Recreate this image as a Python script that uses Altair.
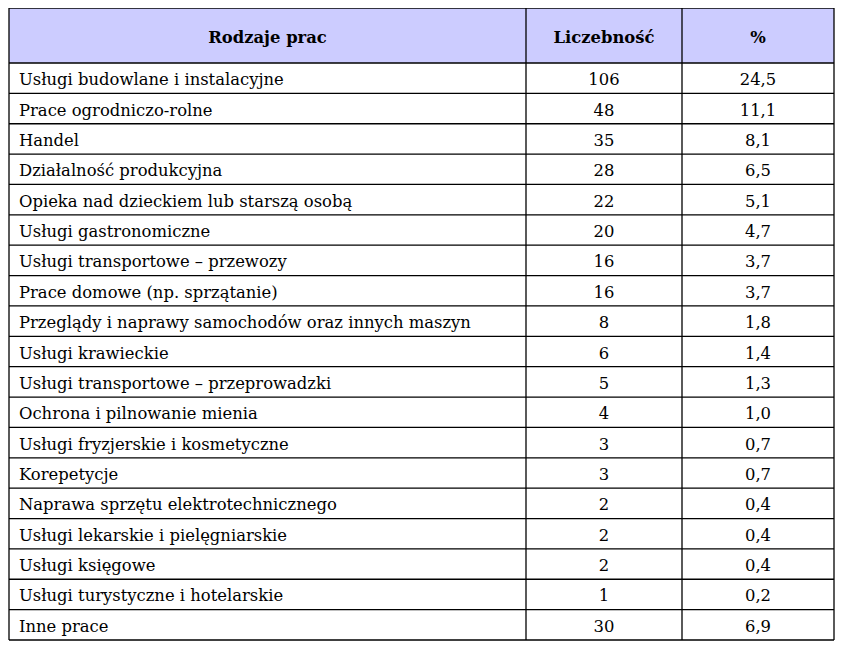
import altair as alt
import pandas as pd

# ---- data ----
header = ["Rodzaje prac", "Liczebność", "%"]
categories = [
    "Usługi budowlane i instalacyjne",
    "Prace ogrodniczo-rolne",
    "Handel",
    "Działalność produkcyjna",
    "Opieka nad dzieckiem lub starszą osobą",
    "Usługi gastronomiczne",
    "Usługi transportowe – przewozy",
    "Prace domowe (np. sprzątanie)",
    "Przeglądy i naprawy samochodów oraz innych maszyn",
    "Usługi krawieckie",
    "Usługi transportowe – przeprowadzki",
    "Ochrona i pilnowanie mienia",
    "Usługi fryzjerskie i kosmetyczne",
    "Korepetycje",
    "Naprawa sprzętu elektrotechnicznego",
    "Usługi lekarskie i pielęgniarskie",
    "Usługi księgowe",
    "Usługi turystyczne i hotelarskie",
    "Inne prace",
]
counts = [106, 48, 35, 28, 22, 20, 16, 16, 8, 6, 5, 4, 3, 3, 2, 2, 2, 1, 30]
percents = [24.5, 11.1, 8.1, 6.5, 5.1, 4.7, 3.7, 3.7, 1.8, 1.4, 1.3, 1.0,
            0.7, 0.7, 0.4, 0.4, 0.4, 0.2, 6.9]

# ---- layout (table geometry in pixel units) ----
W, H = 828, 639
col_edges = [1, 518, 674, 826]
top, header_bottom, bottom = 0, 55, 632
n = len(categories)
row_h = (bottom - header_bottom) / n

FONT = "DejaVu Serif"
FS = 16.4

xs = alt.Scale(domain=[0, W])
ys = alt.Scale(domain=[0, H], reverse=True)

def X(f):
    return alt.X(f, type="quantitative", scale=xs, axis=None)

def Y(f):
    return alt.Y(f, type="quantitative", scale=ys, axis=None)

# header background
hdr_bg = pd.DataFrame({"x": [col_edges[0]], "x2": [col_edges[-1]], "y": [top], "y2": [header_bottom]})
bg = alt.Chart(hdr_bg).mark_rect(color="#ccccff").encode(
    x=X("x"), x2="x2", y=Y("y"), y2="y2")

# horizontal lines
hy = [top, header_bottom] + [header_bottom + row_h * (i + 1) for i in range(n)]
hl = pd.DataFrame({"y": hy, "x": col_edges[0], "x2": col_edges[-1]})
hrules = alt.Chart(hl).mark_rule(color="#000000", strokeWidth=1.3).encode(
    x=X("x"), x2="x2", y=Y("y"))

# vertical lines
vl = pd.DataFrame({"x": col_edges, "y": top, "y2": bottom})
vrules = alt.Chart(vl).mark_rule(color="#000000", strokeWidth=1.3).encode(
    x=X("x"), y=Y("y"), y2="y2")

# header text
hcx = [(col_edges[i] + col_edges[i + 1]) / 2 for i in range(3)]
hdf = pd.DataFrame({"t": header, "x": hcx, "y": (top + header_bottom) / 2 + 2})
htext = alt.Chart(hdf).mark_text(font=FONT, fontSize=FS, fontWeight="bold",
                                 color="#000000", align="center", baseline="middle").encode(
    x=X("x"), y=Y("y"), text="t:N")

# body
body = pd.DataFrame({
    "cat": categories,
    "cnt": [str(c) for c in counts],
    "pct": [f"{p:.1f}".replace(".", ",") for p in percents],
    "y": [header_bottom + row_h * (i + 0.5) + 2 for i in range(n)],
})
body["x1"] = col_edges[0] + 10
body["x2"] = hcx[1]
body["x3"] = hcx[2]

t1 = alt.Chart(body).mark_text(font=FONT, fontSize=FS, color="#000000",
                               align="left", baseline="middle").encode(
    x=X("x1"), y=Y("y"), text="cat:N")
t2 = alt.Chart(body).mark_text(font=FONT, fontSize=FS, color="#000000",
                               align="center", baseline="middle").encode(
    x=X("x2"), y=Y("y"), text="cnt:N")
t3 = alt.Chart(body).mark_text(font=FONT, fontSize=FS, color="#000000",
                               align="center", baseline="middle").encode(
    x=X("x3"), y=Y("y"), text="pct:N")

chart = alt.layer(bg, hrules, vrules, htext, t1, t2, t3).properties(
    width=W, height=H,
    autosize=alt.AutoSizeParams(type="none"),
    padding={"left": 0, "top": 0, "right": 0, "bottom": 0},
    background="white",
).configure_view(strokeWidth=0)

chart.save("out.html", embed_options={"renderer": "svg", "actions": False})
